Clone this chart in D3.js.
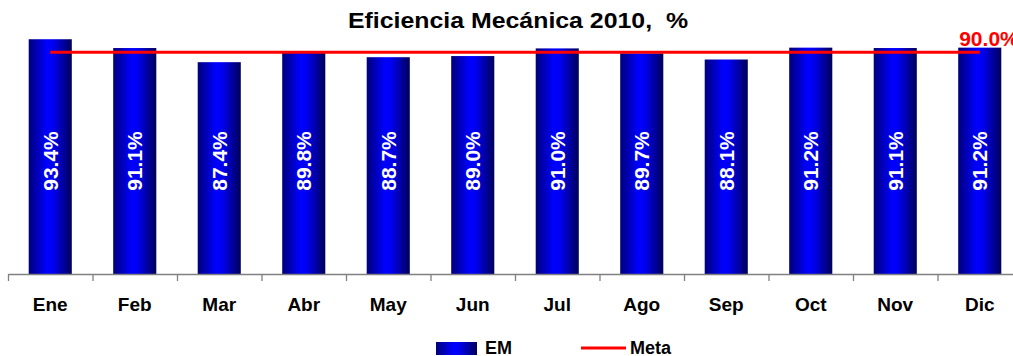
<!DOCTYPE html>
<html><head><meta charset="utf-8">
<script src="https://cdn.jsdelivr.net/npm/d3@7"></script>
<style>
html,body{margin:0;padding:0;background:#fff;}
svg{display:block;font-family:Arial,"Liberation Sans",sans-serif;}
</style></head>
<body>
<svg id="chart" width="1013" height="356"></svg>
<script>
const months = ["Ene","Feb","Mar","Abr","May","Jun","Jul","Ago","Sep","Oct","Nov","Dic"];
const emValues = [93.4, 91.1, 87.4, 89.8, 88.7, 89.0, 91.0, 89.7, 88.1, 91.2, 91.1, 91.2];
const metaValue = 90.0;
const seriesNames = ["EM", "Meta"];
const titleText = "Eficiencia Mecánica 2010,  %";

const svg = d3.select("#chart");
const defs = svg.append("defs");
const grad = defs.append("linearGradient").attr("id","barGrad").attr("x1","0").attr("x2","1").attr("y1","0").attr("y2","0");
[[0,"#00007a"],[0.3,"#0000d8"],[0.42,"#0000ff"],[0.55,"#0000f5"],[0.8,"#0000a0"],[1,"#000058"]]
  .forEach(([o,c]) => grad.append("stop").attr("offset",o).attr("stop-color",c));

const baseY = 274;
const x = d3.scaleBand().domain(months).range([8, 1022]).paddingInner(0.49).paddingOuter(0.245);
const xEdges = d3.scaleLinear().domain([0, months.length]).range([8, 1022]);
const y = d3.scaleLinear().domain([32, 100]).range([baseY, 14]);

// title
svg.append("text")
  .attr("x", 518).attr("y", 28)
  .attr("text-anchor","middle")
  .attr("font-size", 22).attr("font-weight","bold")
  .attr("textLength", 340).attr("lengthAdjust","spacingAndGlyphs")
  .style("white-space","pre")
  .text(titleText);

// bars
svg.append("g").selectAll("rect").data(emValues).join("rect")
  .attr("x", (d,i) => x(months[i]))
  .attr("width", x.bandwidth())
  .attr("y", d => y(d))
  .attr("height", d => baseY - y(d))
  .attr("fill","url(#barGrad)");

// value labels
const labelY = 161;
svg.append("g").selectAll("text").data(emValues).join("text")
  .attr("transform", (d,i) => `translate(${x(months[i]) + x.bandwidth()/2},${labelY}) rotate(-90)`)
  .attr("text-anchor","middle")
  .attr("dy","0.35em")
  .attr("fill","#fff")
  .attr("font-size", 21).attr("font-weight","bold")
  .text(d => d.toFixed(1) + "%");

// axis
const axis = d3.axisBottom(xEdges).tickValues(d3.range(0, months.length + 1)).tickFormat("").tickSize(7).tickSizeOuter(0);
const ax = svg.append("g").attr("transform", `translate(0,${baseY})`).call(axis);
ax.select(".domain").attr("stroke","#808080").attr("stroke-width",1.3);
ax.selectAll(".tick line").attr("stroke","#808080").attr("stroke-width",1.3);

svg.append("g").selectAll("text").data(months).join("text")
  .attr("x", d => x(d) + x.bandwidth()/2)
  .attr("y", 311)
  .attr("text-anchor","middle")
  .attr("font-size", 19).attr("font-weight","bold")
  .text(d => d);

// meta line
const mx1 = x(months[0]) + x.bandwidth()/2;
const mx2 = x(months[months.length-1]) + x.bandwidth()/2;
svg.append("line")
  .attr("x1", mx1).attr("x2", mx2)
  .attr("y1", y(metaValue)).attr("y2", y(metaValue))
  .attr("stroke","#ff0000").attr("stroke-width",3);
svg.append("text")
  .attr("x", x(months[months.length-1]) + 1)
  .attr("y", 46)
  .attr("fill","#ff0000")
  .attr("font-size", 21).attr("font-weight","bold")
  .text(metaValue.toFixed(1) + "%");

// legend
const lg = svg.append("g");
lg.append("rect").attr("x",436).attr("y",342).attr("width",41).attr("height",13).attr("fill","url(#barGrad)");
lg.append("text").attr("x",485).attr("y",354).attr("font-size",18).attr("font-weight","bold").text(seriesNames[0]);
lg.append("line").attr("x1",581).attr("x2",626).attr("y1",348).attr("y2",348).attr("stroke","#ff0000").attr("stroke-width",3);
lg.append("text").attr("x",630).attr("y",354).attr("font-size",18).attr("font-weight","bold").text(seriesNames[1]);
</script>
</body></html>
